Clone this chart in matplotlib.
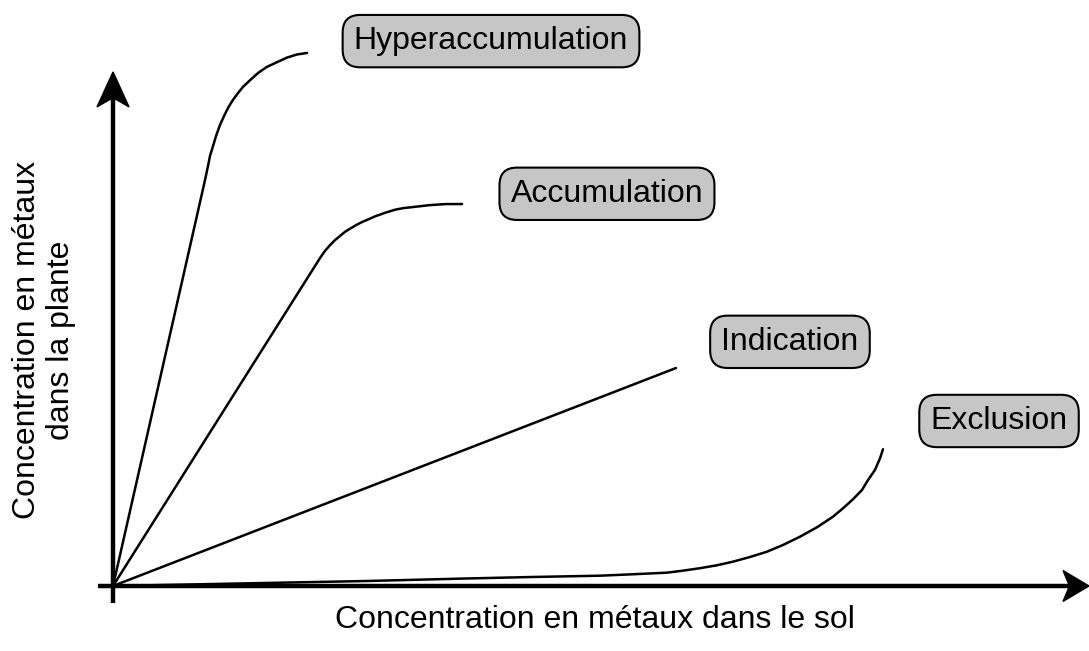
import matplotlib
matplotlib.use("Agg")
import matplotlib.pyplot as plt
from matplotlib.patches import Polygon

plt.rcParams['font.family'] = ['Liberation Sans', 'DejaVu Sans']

# curves, arbitrary units (axis arrow tips are at 100)
hyper_x = [0, 9.43, 9.73, 9.94, 10.25, 10.55, 10.96, 11.37, 11.78, 12.30, 12.81, 13.32,
           14.04, 14.86, 15.78, 16.80, 17.83, 18.85, 19.88]
hyper_y = [0, 79.0, 81.7, 83.7, 85.6, 87.5, 89.7, 91.4, 93.0, 94.6, 95.9, 97.1,
           98.4, 99.8, 101.0, 101.9, 102.8, 103.4, 103.7]

accu_x = [0, 21.21, 21.72, 22.23, 22.75, 23.26, 23.77, 24.28, 24.90, 25.51, 26.13, 26.84,
          27.87, 28.89, 29.71, 30.64, 31.56, 32.48, 34.12, 35.76]
accu_y = [0, 63.8, 65.2, 66.3, 67.3, 68.1, 68.9, 69.5, 70.2, 70.8, 71.3, 71.9,
          72.6, 73.2, 73.5, 73.7, 73.9, 74.1, 74.3, 74.3]

indic_x = [0, 57.68]
indic_y = [0, 42.4]

excl_x = [0, 26.02, 36.27, 43.03, 49.90, 53.28, 56.76, 58.40, 60.14, 61.89, 63.52, 65.27,
          67.01, 68.65, 70.39, 72.13, 73.77, 74.80, 75.82, 76.74, 77.36, 78.07, 78.59, 78.89]
excl_y = [0, 0.97, 1.46, 1.75, 2.00, 2.28, 2.59, 2.98, 3.46, 4.03, 4.73, 5.64,
          6.67, 7.98, 9.59, 11.42, 13.48, 15.12, 16.87, 18.68, 20.62, 22.57, 24.84, 26.60]

labels = ["Hyperaccumulation", "Accumulation", "Indication", "Exclusion"]
label_x = [38.73, 50.61, 69.36, 90.78]
label_y = [106.0, 76.3, 47.5, 32.1]

fig = plt.figure(figsize=(10.89, 6.51), dpi=100)
ax = fig.add_axes([0, 0, 1, 1])
ax.set_xlim(-11.58, 100)
ax.set_ylim(-12.65, 114.0)
ax.axis('off')

# axes with stealth arrow heads
ax.plot([-1.54, 98.0], [0, 0], color='black', lw=3.2, solid_capstyle='butt')
ax.plot([0, 0], [-3.31, 95.0], color='black', lw=3.2, solid_capstyle='butt')
ax.add_patch(Polygon([[0, 100], [1.64, 93.2], [0, 95.0], [-1.64, 93.2]],
                     closed=True, color='black'))
ax.add_patch(Polygon([[100, 0], [97.34, 3.0], [98.0, 0], [97.34, -3.0]],
                     closed=True, color='black'))

for xs, ys in [(hyper_x, hyper_y), (accu_x, accu_y), (indic_x, indic_y), (excl_x, excl_y)]:
    ax.plot(xs, ys, color='black', lw=1.8, solid_capstyle='round', solid_joinstyle='round')

for t, x, y in zip(labels, label_x, label_y):
    ax.text(x, y, t, fontsize=23, ha='center', va='center',
            bbox=dict(boxstyle='round,pad=0.35,rounding_size=0.55',
                      facecolor='#c6c6c6', edgecolor='black', lw=1.5))

fig.text(595 / 1089, 1 - 620 / 651, "Concentration en métaux dans le sol",
         fontsize=23, ha='center', va='center')
fig.text(44 / 1089, 1 - 340 / 651, "Concentration en métaux\ndans la plante",
         fontsize=23, ha='center', va='center', rotation=90, linespacing=1.15)

fig.savefig('out.png', dpi=100)
